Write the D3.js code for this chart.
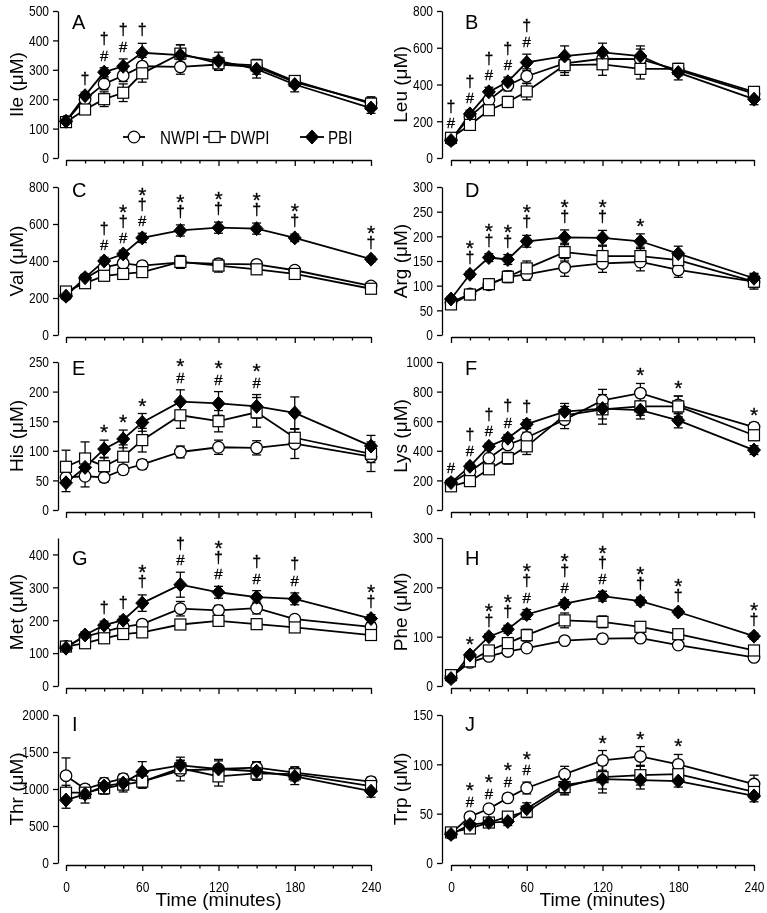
<!DOCTYPE html>
<html><head><meta charset="utf-8">
<script src="https://cdn.jsdelivr.net/npm/d3@7/dist/d3.min.js"></script>
<style>
body{margin:0;background:#fff;}
svg text{font-family:"Liberation Sans",Arial,Helvetica,sans-serif;fill:#000;}
</style></head><body>
<svg id="chart" width="767" height="913"></svg>
<script>
// ---------- DATA ----------
const times = [0, 15, 30, 45, 60, 90, 120, 150, 180, 240];
const seriesNames = ["NWPI", "DWPI", "PBI"];
const xMajorTicks = [0, 60, 120, 180, 240];

// Ile
const ileMeans = [[125,200,252,280,312,310,318,310,258,188],[122,165,200,222,288,355,322,315,262,185],[125,212,292,312,358,350,330,302,250,170]];
const ileSEM   = [[10,15,20,20,30,25,20,25,15,20],[10,15,25,30,30,30,20,20,15,20],[10,12,15,25,32,35,30,30,25,18]];
const ileSig   = ["","†","†#","†#","†","","","","",""];
const ileTicks = [0,100,200,300,400,500];
// Leu
const leuMeans = [[100,225,315,395,445,515,540,538,478,350],[110,180,260,305,362,505,510,485,485,360],[95,240,360,415,520,555,575,555,465,320]];
const leuSEM   = [[10,20,25,30,40,50,50,55,30,25],[15,20,25,30,45,55,60,55,30,25],[10,20,25,25,45,55,50,55,40,30]];
const leuSig   = ["†#","†#","†#","†#","†#","","","","",""];
const leuTicks = [0,200,400,600,800];
// Val
const valMeans = [[215,305,365,387,375,393,385,382,350,265],[235,280,320,330,340,395,375,355,330,250],[210,310,400,438,525,565,580,575,525,410]];
const valSEM   = [[15,15,20,20,20,30,25,20,20,15],[15,15,20,20,25,35,35,25,20,15],[15,15,20,20,25,30,30,30,20,15]];
const valSig   = ["","","†#","*†#","*†#","*†","*†","*†","*†","*†"];
const valTicks = [0,200,400,600,800];
// Arg
const argMeans = [[66,83,102,118,123,137,145,148,132,108],[62,82,103,118,135,168,160,160,152,108],[73,123,157,153,190,198,197,190,165,115]];
const argSEM   = [[5,6,8,10,12,18,18,18,15,12],[5,8,10,12,15,18,20,18,15,15],[5,6,8,10,12,15,15,15,15,10]];
const argSig   = ["","*†","*†","*†","*†","*†","*†","*","",""];
const argTicks = [0,50,100,150,200,250,300];
// His
const hisMeans = [[55,57,55,68,77,98,106,105,112,90],[73,87,74,90,118,160,150,165,122,95],[46,72,103,120,148,183,180,175,164,108]];
const hisSEM   = [[10,18,8,8,8,10,12,12,25,25],[28,28,15,20,20,22,18,25,15,15],[15,12,15,15,15,20,20,20,27,18]];
const hisSig   = ["","","*","*","*","*#","*#","*#","",""];
const hisTicks = [0,50,100,150,200,250];
// Lys
const lysMeans = [[180,260,350,440,490,610,740,790,710,560],[160,195,275,350,430,640,680,700,700,505],[185,295,430,485,580,665,685,675,605,405]];
const lysSEM   = [[15,20,20,25,35,60,75,65,60,30],[15,15,20,40,55,60,100,60,70,35],[15,20,20,25,30,55,70,60,50,30]];
const lysSig   = ["#","†#","†#","†#","†","","","*","*","*"];
const lysTicks = [0,200,400,600,800,1000];
// Met
const metMeans = [[120,150,165,180,188,235,230,237,203,180],[120,130,145,158,163,187,198,188,178,155],[115,155,185,200,252,308,285,270,265,205]];
const metSEM   = [[8,8,10,10,10,22,15,18,10,10],[8,8,8,10,10,12,10,8,8,8],[8,10,12,12,25,38,18,20,18,12]];
const metSig   = ["","","†","†","*†","†#","*†#","†#","†#","*†"];
const metTicks = [0,100,200,300,400];
// Phe
const pheMeans = [[18,48,60,70,77,92,96,97,83,58],[22,50,72,87,103,133,130,120,105,72],[15,63,100,115,145,167,182,172,150,101]];
const pheSEM   = [[3,4,5,5,6,6,6,6,6,5],[3,5,8,10,12,15,12,10,8,6],[3,5,6,8,10,8,10,8,6,6]];
const pheSig   = ["","*","*†","*†","*†#","*†#","*†#","*†","*†","*†"];
const pheTicks = [0,100,200,300];
// Thr
const thrMeans = [[1180,1000,1080,1140,1100,1250,1270,1290,1220,1100],[950,950,1010,1060,1100,1280,1170,1210,1200,1040],[850,930,1040,1080,1230,1320,1270,1240,1170,970]];
const thrSEM   = [[240,60,70,60,80,140,130,80,80,60],[100,80,80,70,90,100,130,90,90,60],[110,120,90,120,140,110,110,120,110,80]];
const thrSig   = ["","","","","","","","","",""];
const thrTicks = [0,500,1000,1500,2000];
// Trp
const trpMeans = [[30,47,55,66,76,90,104,108,100,80],[31,35,41,47,52,77,87,89,90,72],[29,39,41,42,55,79,85,84,83,68]];
const trpSEM   = [[3,3,3,4,6,8,10,10,10,9],[3,4,4,5,6,8,12,10,8,7],[3,4,4,4,6,9,14,9,6,6]];
const trpSig   = ["","*#","*#","*#","*#","","*","*","*",""];
const trpTicks = [0,50,100,150];

const panelDefs = [
  {letter:"A", label:"Ile (μM)", means:ileMeans, sem:ileSEM, sig:ileSig, ticks:ileTicks, max:500},
  {letter:"B", label:"Leu (μM)", means:leuMeans, sem:leuSEM, sig:leuSig, ticks:leuTicks, max:800},
  {letter:"C", label:"Val (μM)", means:valMeans, sem:valSEM, sig:valSig, ticks:valTicks, max:800},
  {letter:"D", label:"Arg (μM)", means:argMeans, sem:argSEM, sig:argSig, ticks:argTicks, max:300},
  {letter:"E", label:"His (μM)", means:hisMeans, sem:hisSEM, sig:hisSig, ticks:hisTicks, max:250},
  {letter:"F", label:"Lys (μM)", means:lysMeans, sem:lysSEM, sig:lysSig, ticks:lysTicks, max:1000},
  {letter:"G", label:"Met (μM)", means:metMeans, sem:metSEM, sig:metSig, ticks:metTicks, max:450},
  {letter:"H", label:"Phe (μM)", means:pheMeans, sem:pheSEM, sig:pheSig, ticks:pheTicks, max:300},
  {letter:"I", label:"Thr (μM)", means:thrMeans, sem:thrSEM, sig:thrSig, ticks:thrTicks, max:2000},
  {letter:"J", label:"Trp (μM)", means:trpMeans, sem:trpSEM, sig:trpSig, ticks:trpTicks, max:150}
];

// ---------- LAYOUT ----------
const cols = [{axis:58, x0:66, x1:371, labelX:16, letterX:72},
              {axis:442, x0:451, x1:754, labelX:400, letterX:465}];
const rows = [{top:11, bottom:158, letterY:29},
              {top:187, bottom:335, letterY:197},
              {top:362, bottom:510, letterY:375},
              {top:538, bottom:686, letterY:565},
              {top:715, bottom:863, letterY:731}];
const glyph = {"#":{size:15, gapAbove:5.5},
               "†":{size:16, gapAbove:2},
               "*":{size:21, gapAbove:2}};
const narrow = 0.8;
const FONT = '"Liberation Sans", Arial, sans-serif';

// ink metrics of the symbol glyphs
const mctx = document.createElement("canvas").getContext("2d");
function ink(ch, size){
  mctx.font = `${size}px ${FONT}`;
  const m = mctx.measureText(ch);
  return {asc:m.actualBoundingBoxAscent, desc:m.actualBoundingBoxDescent};
}

const svg = d3.select("#chart");
const root = svg.append("g").attr("opacity",0.999);

function marker(g, type, x, y){
  if(type===0){
    g.append("circle").attr("cx",x).attr("cy",y).attr("r",5.8)
     .attr("fill","#fff").attr("stroke","#000").attr("stroke-width",1.3);
  } else if(type===1){
    g.append("rect").attr("x",x-5.5).attr("y",y-5.5).attr("width",11).attr("height",11)
     .attr("fill","#fff").attr("stroke","#000").attr("stroke-width",1.2);
  } else {
    g.append("path").attr("d",`M${x},${y-7}L${x+6.5},${y}L${x},${y+7}L${x-6.5},${y}Z`)
     .attr("fill","#000").attr("stroke","#000").attr("stroke-width",1);
  }
}

panelDefs.forEach((p,i)=>{
  const c = cols[i%2], r = rows[Math.floor(i/2)];
  const x = d3.scaleLinear().domain([0,240]).range([c.x0,c.x1]);
  const y = d3.scaleLinear().domain([0,p.max]).range([r.bottom,r.top]);
  const g = root.append("g");

  // y axis
  const ya = g.append("g").attr("transform",`translate(${c.axis},0)`)
    .call(d3.axisLeft(y).tickValues(p.ticks).tickSize(5).tickSizeOuter(0).tickPadding(4).tickFormat(d3.format("d")));
  ya.selectAll("path,line").attr("stroke","#000").attr("stroke-width",1.3);
  ya.selectAll("text").attr("font-size",15).attr("x",-9/narrow).attr("transform",`scale(${narrow},1)`);
  // x axis
  const isBottom = Math.floor(i/2)===4;
  const xa = g.append("g").attr("transform",`translate(0,${r.bottom+2})`)
    .call(d3.axisBottom(x).tickValues(d3.range(0,241,15)).tickSize(6).tickSizeOuter(0).tickPadding(10)
      .tickFormat(d=> (isBottom && xMajorTicks.includes(d)) ? d : ""));
  xa.selectAll("path,line").attr("stroke","#000").attr("stroke-width",1.3);
  xa.selectAll(".tick line").attr("y2", d=> xMajorTicks.includes(d)?6:3.5);
  xa.selectAll("text").attr("font-size",15).attr("transform",`scale(${narrow},1)`);
  if(isBottom){
    g.append("text").attr("x",(c.x0+c.x1)/2).attr("y",906).attr("text-anchor","middle")
      .attr("font-size",19).text("Time (minutes)");
  }
  // y label
  g.append("text").attr("transform",`translate(${c.labelX},${(r.top+r.bottom)/2}) rotate(-90)`)
    .attr("text-anchor","middle").attr("dy","0.35em").attr("font-size",19).text(p.label);
  // letter
  g.append("text").attr("x",c.letterX).attr("y",r.letterY).attr("font-size",20).text(p.letter);

  // lines
  const line = d3.line().x((d,k)=>x(times[k])).y(d=>y(d));
  p.means.forEach(m=>{
    g.append("path").attr("d",line(m)).attr("fill","none").attr("stroke","#000").attr("stroke-width",1.8);
  });
  // error bars
  p.means.forEach((m,s)=>{
    m.forEach((v,k)=>{
      const e = p.sem[s][k], xx = x(times[k]);
      g.append("line").attr("x1",xx).attr("x2",xx).attr("y1",y(v-e)).attr("y2",y(v+e)).attr("stroke","#000").attr("stroke-width",1.3);
      [v-e, v+e].forEach(w=>g.append("line").attr("x1",xx-4.5).attr("x2",xx+4.5).attr("y1",y(w)).attr("y2",y(w)).attr("stroke","#000").attr("stroke-width",1.3));
    });
  });
  // markers
  p.means.forEach((m,s)=>{ m.forEach((v,k)=>marker(g,s,x(times[k]),y(v))); });

  // significance symbols, stacked above the highest error bar
  p.sig.forEach((str,k)=>{
    if(!str) return;
    const topVal = d3.max(p.means.map((m,s)=>m[k]+p.sem[s][k]));
    let cur = y(topVal) - 7;
    const chars = Array.from(str);
    for(let j=chars.length-1;j>=0;j--){
      const gm = glyph[chars[j]];
      const im = ink(chars[j], gm.size);
      const base = cur - im.desc;
      g.append("text").attr("x",x(times[k])).attr("y",base).attr("text-anchor","middle")
        .attr("font-size",gm.size).attr("stroke","#000").attr("stroke-width",0.3).text(chars[j]);
      cur = base - im.asc - gm.gapAbove;
    }
  });
});

// legend (in panel A)
const lg = root.append("g");
const legendItems = [{x0:123, x1:145, tx:160}, {x0:203, x1:226, tx:230}, {x0:300, x1:324, tx:328}];
const ly = 137, ls = 0.82;
legendItems.forEach((it,s)=>{
  lg.append("line").attr("x1",it.x0).attr("x2",it.x1).attr("y1",ly).attr("y2",ly).attr("stroke","#000").attr("stroke-width",1.8);
  marker(lg, s, (it.x0+it.x1)/2, ly);
  lg.append("text").attr("x",it.tx/ls).attr("y",ly).attr("dy","0.36em").attr("font-size",18.5)
    .attr("transform",`scale(${ls},1)`).text(seriesNames[s]);
});
</script></body></html>
